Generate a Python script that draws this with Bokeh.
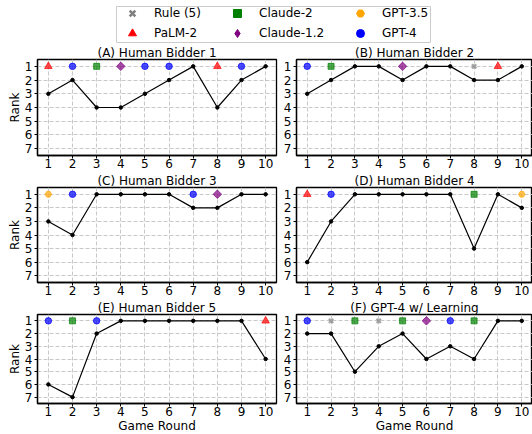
import math
from bokeh.plotting import figure
from bokeh.layouts import column, row
from bokeh.models import Range1d, FixedTicker, Legend, LegendItem
from bokeh.embed import file_html
from bokeh.resources import INLINE

FONT = "DejaVu Sans"

# ---------------- data ----------------
rounds = [1, 2, 3, 4, 5, 6, 7, 8, 9, 10]
rank_ticks = [1, 2, 3, 4, 5, 6, 7]
WIN_RANK = 1

titles = ["(A) Human Bidder 1", "(B) Human Bidder 2", "(C) Human Bidder 3",
          "(D) Human Bidder 4", "(E) Human Bidder 5", "(F) GPT-4 w/ Learning"]

ranks_A = [3, 2, 4, 4, 3, 2, 1, 4, 2, 1]
ranks_B = [3, 2, 1, 1, 2, 1, 1, 2, 2, 1]
ranks_C = [3, 4, 1, 1, 1, 1, 2, 2, 1, 1]
ranks_D = [6, 3, 1, 1, 1, 1, 1, 5, 1, 2]
ranks_E = [6, 7, 2, 1, 1, 1, 1, 1, 1, 4]
ranks_F = [2, 2, 5, 3, 2, 4, 3, 4, 1, 1]

winners_A = ["PaLM-2", "GPT-4", "Claude-2", "Claude-1.2", "GPT-4", "GPT-4", None, "PaLM-2", "GPT-4", None]
winners_B = ["GPT-4", "Claude-2", None, None, "Claude-1.2", None, None, "Rule (5)", "PaLM-2", None]
winners_C = ["GPT-3.5", "GPT-4", None, None, None, None, "GPT-4", "Claude-1.2", None, None]
winners_D = ["PaLM-2", "GPT-4", None, None, None, None, None, "Claude-2", None, "GPT-3.5"]
winners_E = ["GPT-4", "Claude-2", "GPT-4", None, None, None, None, None, None, "PaLM-2"]
winners_F = ["GPT-4", "Rule (5)", "Claude-2", "Rule (5)", "Claude-2", "Claude-1.2", "GPT-4", "Claude-2", None, None]

models = ["Rule (5)", "PaLM-2", "Claude-2", "Claude-1.2", "GPT-3.5", "GPT-4"]
model_marker = {"Rule (5)": "x", "PaLM-2": "triangle", "Claude-2": "square",
                "Claude-1.2": "square", "GPT-3.5": "hex", "GPT-4": "circle"}
model_angle = {"Rule (5)": 0.0, "PaLM-2": 0.0, "Claude-2": 0.0,
               "Claude-1.2": math.pi / 4, "GPT-3.5": 0.0, "GPT-4": 0.0}
model_color = {"Rule (5)": "grey", "PaLM-2": "red", "Claude-2": "green",
               "Claude-1.2": "purple", "GPT-3.5": "orange", "GPT-4": "blue"}
model_size = {"Rule (5)": 6, "PaLM-2": 7.5, "Claude-2": 6,
              "Claude-1.2": 6, "GPT-3.5": 6.5, "GPT-4": 6.5}

# legend handle shapes
legend_marker = {"Rule (5)": "x", "PaLM-2": "triangle", "Claude-2": "square",
                 "Claude-1.2": "diamond", "GPT-3.5": "hex", "GPT-4": "circle"}


def style_marker(model, alpha):
    kw = dict(marker=model_marker[model], size=model_size[model],
              angle=model_angle[model],
              fill_color=model_color[model], line_color=model_color[model],
              fill_alpha=alpha, line_alpha=alpha)
    if model_marker[model] == "x":
        kw["line_width"] = 2.4
    return kw


def make_panel(title, ranks, winners, width, height, left, right, top, bottom,
               ylabel=False, xlabel=False):
    p = figure(width=width, height=height,
               x_range=Range1d(0.55, 10.45), y_range=Range1d(7.5, 0.5),
               toolbar_location=None, output_backend="svg",
               min_border_left=left, min_border_right=right,
               min_border_top=top, min_border_bottom=bottom,
               title=title)
    p.background_fill_color = "white"
    p.border_fill_color = "white"
    p.outline_line_color = "black"
    p.outline_line_width = 1.3
    p.title.text_font = FONT
    p.title.text_font_size = "12px"
    p.title.text_font_style = "normal"
    p.title.align = "center"
    p.title.standoff = 0
    p.title.text_color = "black"

    p.xaxis.ticker = FixedTicker(ticks=rounds)
    p.yaxis.ticker = FixedTicker(ticks=rank_ticks)
    for ax in (p.xaxis[0], p.yaxis[0]):
        ax.major_label_text_font = FONT
        ax.major_label_text_font_size = "12px"
        ax.major_label_text_color = "black"
        ax.axis_line_color = "black"
        ax.axis_line_width = 1.3
        ax.major_tick_line_color = "black"
        ax.major_tick_in = 0
        ax.major_tick_out = 3
        ax.minor_tick_line_color = None
        ax.axis_label_text_font = FONT
        ax.axis_label_text_font_size = "12px"
        ax.axis_label_text_font_style = "normal"
        ax.axis_label_text_color = "black"
        ax.axis_label_standoff = 0
    p.xaxis.major_label_standoff = 0
    p.yaxis.major_label_standoff = 2
    if ylabel:
        p.yaxis.axis_label = "Rank"
    if xlabel:
        p.xaxis.axis_label = "Game Round"

    p.grid.grid_line_color = "#c2c2c2"
    p.grid.grid_line_dash = "4 2"
    p.grid.grid_line_width = 0.9

    for m in models:
        xs = [r for r, w in zip(rounds, winners) if w == m]
        if xs:
            p.scatter(xs, [WIN_RANK] * len(xs), **style_marker(m, 0.7))

    p.line(rounds, ranks, line_color="black", line_width=1.2)
    p.scatter(rounds, ranks, marker="circle", size=3.5, color="black")
    return p


LW, RW = 280, 252
H1, H2, H3 = 128, 127, 137

pA = make_panel(titles[0], ranks_A, winners_A, LW, H1, 37, 4, 15, 16, ylabel=True)
pB = make_panel(titles[1], ranks_B, winners_B, RW, H1, 13, 0, 15, 16)
pC = make_panel(titles[2], ranks_C, winners_C, LW, H2, 37, 4, 15, 16, ylabel=True)
pD = make_panel(titles[3], ranks_D, winners_D, RW, H2, 13, 0, 15, 16)
pE = make_panel(titles[4], ranks_E, winners_E, LW, H3, 37, 4, 15, 30, ylabel=True, xlabel=True)
pF = make_panel(titles[5], ranks_F, winners_F, RW, H3, 13, 0, 15, 30, xlabel=True)

# ---------------- legend strip ----------------
lf = figure(width=532, height=43, x_range=Range1d(0, 1), y_range=Range1d(0, 1),
            x_axis_location=None, y_axis_location=None,
            toolbar_location=None, output_backend="svg",
            min_border_left=116, min_border_right=102,
            min_border_top=6, min_border_bottom=0)
lf.grid.visible = False
lf.outline_line_color = "#cccccc"
lf.outline_line_width = 1
lf.background_fill_color = "white"
lf.border_fill_color = "white"

# legend handles: one point each, placed outside the visible range
legend_renderers = {}
for m in models:
    kw = dict(marker=legend_marker[m], size=8,
              fill_color=model_color[m], line_color=model_color[m])
    if legend_marker[m] == "x":
        kw["line_width"] = 2.6
    legend_renderers[m] = lf.scatter(x=[-5], y=[-5], **kw)

col_groups = [models[0:2], models[2:4], models[4:6]]
col_offsets = [6, 111, 234]
for group, xoff in zip(col_groups, col_offsets):
    leg = Legend(items=[LegendItem(label=m, renderers=[legend_renderers[m]]) for m in group],
                 location=(xoff, 0), orientation="vertical",
                 padding=0, margin=0, spacing=-3,
                 glyph_width=20, glyph_height=20, label_height=20,
                 label_standoff=12,
                 border_line_color=None, background_fill_alpha=0,
                 label_text_font=FONT, label_text_font_size="12px",
                 label_text_color="black")
    lf.add_layout(leg)

layout = column(lf, row(pA, pB), row(pC, pD), row(pE, pF))

open("out.html", "w").write(file_html(layout, INLINE))
